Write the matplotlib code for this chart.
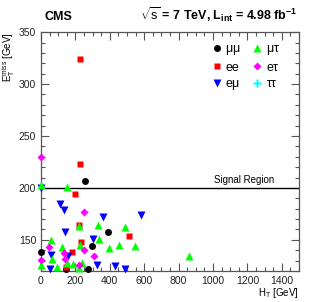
import numpy as np
import matplotlib
matplotlib.use('Agg')
from matplotlib import pyplot as plt
from matplotlib.ticker import MultipleLocator

plt.rcParams['font.family'] = ['Liberation Sans', 'DejaVu Sans']
plt.rcParams['mathtext.fontset'] = 'custom'
plt.rcParams['mathtext.rm'] = 'Liberation Sans'
plt.rcParams['mathtext.it'] = 'Liberation Sans'
plt.rcParams['mathtext.bf'] = 'Liberation Sans:bold'

# events per channel: HT [GeV], MET [GeV]
mumu_ht = [257, 387, 296, 0, 143, 271]
mumu_met = [207, 158, 144, 138, 122, 121.5]

ee_ht = [226, 226, 197, 220, 232, 178, 510, 143]
ee_met = [324, 223, 194, 164, 147.5, 138.5, 154, 123.5]

emu_ht = [110, 135, 0, 361, 584, 139, 300, 56, 158, 327, 429, 52, 487]
emu_met = [185, 179, 200, 172, 174, 158, 151, 135.5, 134.5, 126, 125, 121.5, 122]

mutau_ht = [0, 149, 219, 332, 487, 56, 338, 120, 226, 396, 452, 545,
            66, 149, 187, 236, 0, 95, 220, 860]
mutau_met = [203, 200.5, 163, 164, 162, 150, 151, 143, 145.5, 142, 145, 144,
             132, 128, 126.5, 128, 126, 123.5, 123, 134.5]

etau_ht = [0, 251, 46, 133, 249, 137, 307, 0, 219]
etau_met = [230, 177, 143, 137, 140, 131.5, 134, 130.5, 126]

tautau_ht = []
tautau_met = []

signal_cut = 200

fig = plt.figure(figsize=(3.15, 3.02), dpi=100)
ax = fig.add_axes([0.130, 0.1026, 0.819, 0.791])

ms = 5
ax.plot(mumu_ht, mumu_met, 'o', color='black', ms=ms, mec='none', clip_on=False, label=r'$\mu\mu$', zorder=3)
ax.plot(ee_ht, ee_met, 's', color='#ff0000', ms=ms, mec='none', clip_on=False, label='ee', zorder=3)
ax.plot(emu_ht, emu_met, 'v', color='#0000ff', ms=ms + 0.8, mec='none', clip_on=False, label=r'e$\mu$', zorder=3)
ax.plot(mutau_ht, mutau_met, '^', color='#00ff00', ms=ms + 0.8, mec='none', clip_on=False, label=r'$\mu\tau$', zorder=3)
ax.plot(etau_ht, etau_met, 'D', color='#ff00ff', ms=ms - 0.7, mec='none', clip_on=False, label=r'e$\tau$', zorder=3)
ax.plot(tautau_ht, tautau_met, 'P', color='#00ffff', ms=ms + 1, mec='none', clip_on=False, label=r'$\tau\tau$', zorder=3)

ax.axhline(signal_cut, color='black', lw=1.0, zorder=2)
ax.text(1357, signal_cut + 3, 'Signal Region', ha='right', va='bottom', fontsize=7)

ax.set_xlim(0, 1500)
ax.set_ylim(120, 350)
ax.xaxis.set_major_locator(MultipleLocator(200))
ax.xaxis.set_minor_locator(MultipleLocator(50))
ax.yaxis.set_major_locator(MultipleLocator(50))
ax.yaxis.set_minor_locator(MultipleLocator(10))
ax.tick_params(which='both', direction='in', top=True, right=True, labelsize=7.5,
               color='#555555', labelcolor='#222222')
ax.tick_params(which='major', length=6, width=0.8)
ax.tick_params(which='minor', length=3, width=0.8)
ax.set_xticks([0, 200, 400, 600, 800, 1000, 1200, 1400])
ax.set_yticks([150, 200, 250, 300, 350])
for s in ax.spines.values():
    s.set_color('#555555')
    s.set_linewidth(0.9)

ax.set_xlabel(r'H$_{\mathrm{T}}$ [GeV]', fontsize=7, loc='right', labelpad=0)
ax.set_ylabel(r'E$_{\mathrm{T}}^{\mathrm{miss}}$ [GeV]', fontsize=7, loc='top', labelpad=1)

fig.text(0.14, 0.935, 'CMS', fontsize=9, fontweight='bold', ha='left', va='baseline')
fig.text(0.945, 0.935, r'$\sqrt{s}$ = 7 TeV, L$_{\mathbf{int}}$ = 4.98 fb$^{\mathbf{-1}}$',
         fontsize=9, fontweight='bold', ha='right', va='baseline')

ax.legend(ncol=2, loc='upper right', bbox_to_anchor=(0.96, 0.99), frameon=False, fontsize=9,
          handlelength=0.6, handletextpad=0.4, columnspacing=1.0, labelspacing=0.35,
          borderaxespad=0.3)

fig.savefig('out.png', dpi=100)
